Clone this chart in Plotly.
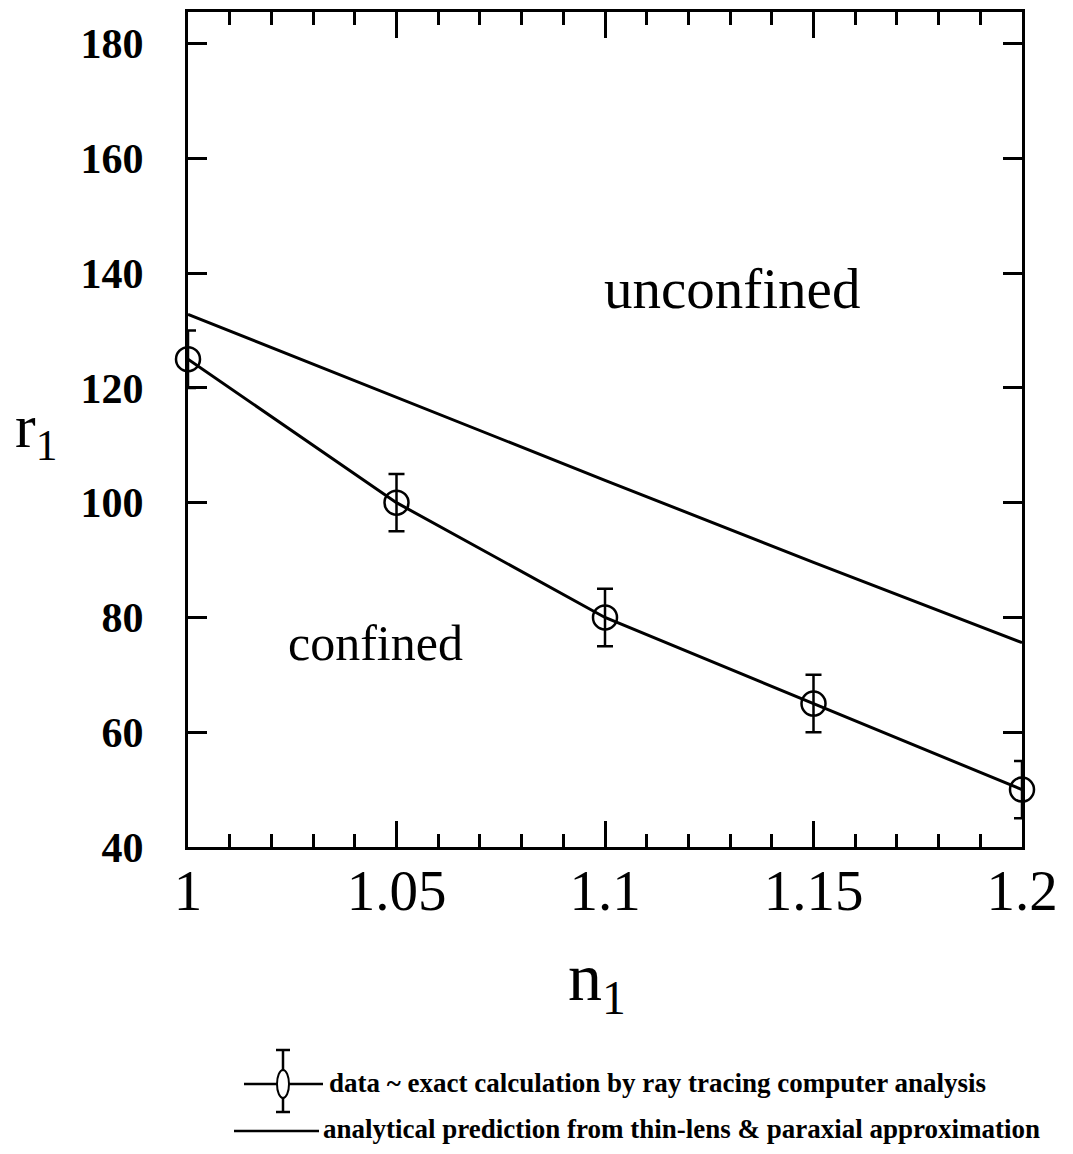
import plotly.graph_objects as go

# ---- data ----
n1_data = [1.00, 1.05, 1.10, 1.15, 1.20]
r1_data = [125, 100, 80, 65, 50]
r1_err = [5, 5, 5, 5, 5]

n1_theory = [1.00, 1.05, 1.10, 1.15, 1.20]
r1_theory = [132.8, 118.3, 103.9, 89.6, 75.6]

x_ticks = [1.00, 1.05, 1.10, 1.15, 1.20]
x_ticktext = ["1", "1.05", "1.1", "1.15", "1.2"]
y_ticks = [40, 60, 80, 100, 120, 140, 160, 180]

serif = "Liberation Serif, Times New Roman, serif"

# page has an 8px body margin; keep figure inside the window (no scrollbars)
OFF = 7
L, T, PW, PH = 187 - OFF, 11 - OFF, 834, 835
W, H = 1073 - 16, 1154 - 16

fig = go.Figure()

fig.add_trace(go.Scatter(
    x=n1_theory, y=r1_theory, mode="lines",
    line=dict(color="black", width=3),
    showlegend=False, hoverinfo="skip",
))

fig.add_trace(go.Scatter(
    x=n1_data, y=r1_data, mode="lines+markers",
    line=dict(color="black", width=3),
    marker=dict(symbol="circle-open", size=24, color="black",
                line=dict(color="black", width=2.5)),
    error_y=dict(type="data", array=r1_err, visible=True,
                 color="black", thickness=2.5, width=8),
    cliponaxis=False,
    showlegend=False, hoverinfo="skip",
))

fig.update_xaxes(
    range=[1.0, 1.2],
    tickmode="array", tickvals=x_ticks, ticktext=x_ticktext,
    ticks="inside", ticklen=26, tickwidth=2.5, tickcolor="black",
    minor=dict(dtick=0.01, tick0=1.0, ticks="inside", ticklen=13,
               tickwidth=2.5, tickcolor="black"),
    showline=True, linewidth=3, linecolor="black", mirror="ticks",
    showgrid=False, zeroline=False,
    tickfont=dict(family=serif, size=57, color="black"),
    ticklabelstandoff=-8,
)
fig.update_yaxes(
    range=[40, 185.5],
    tickmode="array", tickvals=y_ticks,
    ticks="inside", ticklen=19, tickwidth=2.5, tickcolor="black",
    showline=True, linewidth=3, linecolor="black", mirror="ticks",
    showgrid=False, zeroline=False,
    tickfont=dict(family=serif, size=42, color="black", weight="bold"),
    ticklabelstandoff=33,
)


def px_x(p):
    return (p - 187) / PW


def px_y(p):
    return (846 - p) / PH


annotations = [
    dict(x=1.1305, y=137.3, xref="x", yref="y", text="unconfined",
         showarrow=False, font=dict(family=serif, size=57, color="black")),
    dict(x=1.045, y=75.5, xref="x", yref="y", text="confined",
         showarrow=False, font=dict(family=serif, size=50, color="black")),
    # axis titles
    dict(x=px_x(35), y=px_y(430), xref="paper", yref="paper",
         text="r<sub>1</sub>",
         showarrow=False, xanchor="center", yanchor="middle",
         font=dict(family=serif, size=62, color="black")),
    dict(x=px_x(596), y=px_y(980), xref="paper", yref="paper",
         text="n<sub>1</sub>",
         showarrow=False, xanchor="center", yanchor="middle",
         font=dict(family=serif, size=68, color="black")),
    # legend text
    dict(x=px_x(326), y=px_y(1082), xref="paper", yref="paper",
         text="data ~ exact calculation by ray tracing computer analysis",
         showarrow=False, xanchor="left", yanchor="middle",
         font=dict(family=serif, size=27, color="black", weight="bold")),
    dict(x=px_x(320), y=px_y(1128), xref="paper", yref="paper",
         text="analytical prediction from thin-lens &amp; paraxial approximation",
         showarrow=False, xanchor="left", yanchor="middle",
         font=dict(family=serif, size=27, color="black", weight="bold")),
]

legend_shapes = [
    # data symbol: line, error bar, caps, ellipse
    dict(type="line", xref="paper", yref="paper",
         x0=px_x(243), x1=px_x(322), y0=px_y(1083), y1=px_y(1083),
         line=dict(color="black", width=2.5)),
    dict(type="line", xref="paper", yref="paper",
         x0=px_x(282), x1=px_x(282), y0=px_y(1049), y1=px_y(1111),
         line=dict(color="black", width=2.5)),
    dict(type="line", xref="paper", yref="paper",
         x0=px_x(275), x1=px_x(289), y0=px_y(1049), y1=px_y(1049),
         line=dict(color="black", width=2.5)),
    dict(type="line", xref="paper", yref="paper",
         x0=px_x(275), x1=px_x(289), y0=px_y(1111), y1=px_y(1111),
         line=dict(color="black", width=2.5)),
    dict(type="circle", xref="paper", yref="paper",
         x0=px_x(276), x1=px_x(288), y0=px_y(1069), y1=px_y(1097),
         line=dict(color="black", width=2), fillcolor="white"),
    # theory symbol
    dict(type="line", xref="paper", yref="paper",
         x0=px_x(233), x1=px_x(318), y0=px_y(1130), y1=px_y(1130),
         line=dict(color="black", width=2.5)),
]

fig.update_layout(
    width=W, height=H,
    margin=dict(l=L, r=W - L - PW, t=T, b=H - T - PH, autoexpand=False),
    paper_bgcolor="white", plot_bgcolor="white",
    annotations=annotations, shapes=legend_shapes,
    showlegend=False,
)

fig.write_html("out.html")
